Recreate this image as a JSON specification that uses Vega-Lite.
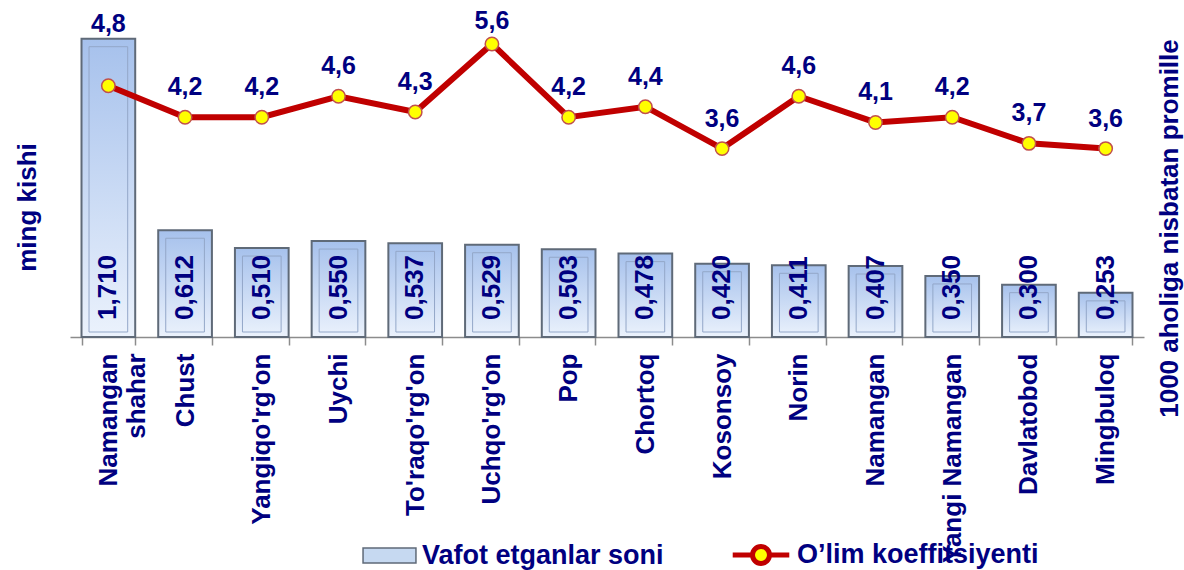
{
  "$schema": "https://vega.github.io/schema/vega-lite/v6.json",
  "width": 1074,
  "height": 314,
  "autosize": {"type": "none"},
  "padding": {"left": 70, "top": 23, "right": 40, "bottom": 233},
  "config": {
    "view": {"stroke": null},
    "font": "Liberation Sans",
    "locale": {"number": {"decimal": ",", "thousands": " ", "grouping": [3], "currency": ["", ""]}},
    "legend": {
      "labelFont": "Liberation Sans",
      "labelFontSize": 27,
      "labelFontWeight": "bold",
      "labelColor": "#000080",
      "labelLimit": 500,
      "labelOffset": 5,
      "padding": 0,
      "symbolOpacity": 1
    }
  },
  "data": {
    "values": [
      {"district": "Namangan shahar", "deaths": 1.710, "rate": 4.8},
      {"district": "Chust", "deaths": 0.612, "rate": 4.2},
      {"district": "Yangiqo'rg'on", "deaths": 0.510, "rate": 4.2},
      {"district": "Uychi", "deaths": 0.550, "rate": 4.6},
      {"district": "To'raqo'rg'on", "deaths": 0.537, "rate": 4.3},
      {"district": "Uchqo'rg'on", "deaths": 0.529, "rate": 5.6},
      {"district": "Pop", "deaths": 0.503, "rate": 4.2},
      {"district": "Chortoq", "deaths": 0.478, "rate": 4.4},
      {"district": "Kosonsoy", "deaths": 0.420, "rate": 3.6},
      {"district": "Norin", "deaths": 0.411, "rate": 4.6},
      {"district": "Namangan", "deaths": 0.407, "rate": 4.1},
      {"district": "Yangi Namangan", "deaths": 0.350, "rate": 4.2},
      {"district": "Davlatobod", "deaths": 0.300, "rate": 3.7},
      {"district": "Mingbuloq", "deaths": 0.253, "rate": 3.6}
    ]
  },
  "encoding": {
    "x": {
      "field": "district",
      "type": "nominal",
      "sort": null,
      "scale": {"paddingInner": 0.3, "paddingOuter": 0.15},
      "axis": {
        "title": null,
        "labelAngle": 270,
        "labelFont": "Liberation Sans",
        "labelFontSize": 26,
        "labelFontWeight": "bold",
        "labelColor": "#000080",
        "labelPadding": 8,
        "labelLimit": 400,
        "labelOverlap": false,
        "labelLineHeight": 28,
        "labelExpr": "datum.label == 'Namangan shahar' ? ['Namangan', 'shahar'] : datum.label",
        "ticks": true,
        "tickSize": 8,
        "tickWidth": 1.5,
        "tickBand": "extent",
        "tickColor": "#8C8C8C",
        "domainColor": "#8C8C8C",
        "domainWidth": 1.5,
        "grid": false
      }
    }
  },
  "layer": [
    {
      "encoding": {
        "y": {
          "field": "deaths",
          "type": "quantitative",
          "scale": {"domain": [0, 1.8], "nice": false},
          "axis": {
            "title": "ming kishi",
            "labels": false,
            "ticks": false,
            "domain": false,
            "grid": false,
            "titleFont": "Liberation Sans",
            "titleFontSize": 26,
            "titleFontWeight": "bold",
            "titleColor": "#000080",
            "titleAngle": 270,
            "titleX": -43,
            "titleY": 184,
            "titleAlign": "center",
            "titleBaseline": "middle"
          }
        }
      },
      "layer": [
        {
          "mark": {
            "type": "bar",
            "fill": {
              "gradient": "linear",
              "x1": 0, "y1": 0, "x2": 0, "y2": 1,
              "stops": [
                {"offset": 0, "color": "#A6C1EC"},
                {"offset": 1, "color": "#EBF2FC"}
              ]
            },
            "stroke": "#5F6A78",
            "strokeWidth": 2
          }
        },
        {
          "mark": {
            "type": "bar",
            "width": {"band": 0.72},
            "yOffset": 8,
            "y2Offset": -5,
            "fillOpacity": 0,
            "stroke": "#93A7C8",
            "strokeWidth": 1
          },
          "encoding": {
            "y2": {"datum": 0},
            "fill": {
              "datum": "Vafot etganlar soni",
              "type": "nominal",
              "scale": {"range": ["#C6D9F1"]},
              "legend": {
                "orient": "none",
                "legendX": 292,
                "legendY": 505,
                "title": null,
                "symbolType": "M-1,-0.28H1V0.28H-1Z",
                "symbolSize": 2800,
                "symbolStrokeColor": "#5F6A78",
                "symbolStrokeWidth": 1.5,
                "symbolFillColor": "#C6D9F1"
              }
            }
          }
        },
        {
          "mark": {
            "type": "text",
            "angle": 270,
            "align": "left",
            "baseline": "middle",
            "dx": 17,
            "font": "Liberation Sans",
            "fontSize": 26,
            "fontWeight": "bold",
            "color": "#000080"
          },
          "encoding": {
            "y": {"datum": 0, "type": "quantitative"},
            "text": {"field": "deaths", "type": "quantitative", "format": ".3f"}
          }
        }
      ]
    },
    {
      "encoding": {
        "y": {
          "field": "rate",
          "type": "quantitative",
          "scale": {"domain": [0, 6], "nice": false},
          "axis": {
            "orient": "right",
            "title": "1000 aholiga nisbatan promille",
            "labels": false,
            "ticks": false,
            "domain": false,
            "grid": false,
            "titleFont": "Liberation Sans",
            "titleFontSize": 26,
            "titleFontWeight": "bold",
            "titleColor": "#000080",
            "titleAngle": 270,
            "titleX": 25,
            "titleY": 205,
            "titleAlign": "center",
            "titleBaseline": "middle"
          }
        }
      },
      "layer": [
        {
          "mark": {"type": "line", "color": "#C00000", "strokeWidth": 6}
        },
        {
          "mark": {"type": "point", "filled": true, "size": 180, "opacity": 1, "stroke": "#C0504D", "strokeWidth": 1.5},
          "encoding": {
            "fill": {
              "datum": "O’lim koeffitsiyenti",
              "type": "nominal",
              "scale": {"range": ["#FFFF00"]},
              "legend": {
                "orient": "none",
                "legendX": 660,
                "legendY": 501,
                "title": null,
                "symbolType": "M-1,0H-0.3M0.3,0H1M-0.3,0A0.3,0.3,0,1,0,0.3,0A0.3,0.3,0,1,0,-0.3,0Z",
                "symbolSize": 3200,
                "symbolStrokeColor": "#C00000",
                "symbolStrokeWidth": 5,
                "symbolFillColor": "#FFFF00"
              }
            }
          }
        },
        {
          "mark": {
            "type": "text",
            "baseline": "middle",
            "align": "center",
            "dy": {"expr": "datum.district === 'Namangan shahar' ? -62 : (datum.rate > 5.5 ? -23 : -30)"},
            "font": "Liberation Sans",
            "fontSize": 25,
            "fontWeight": "bold",
            "color": "#000080"
          },
          "encoding": {
            "text": {"field": "rate", "type": "quantitative", "format": ".1f"}
          }
        }
      ]
    }
  ],
  "resolve": {"scale": {"y": "independent", "fill": "independent"}, "legend": {"fill": "independent"}}
}
